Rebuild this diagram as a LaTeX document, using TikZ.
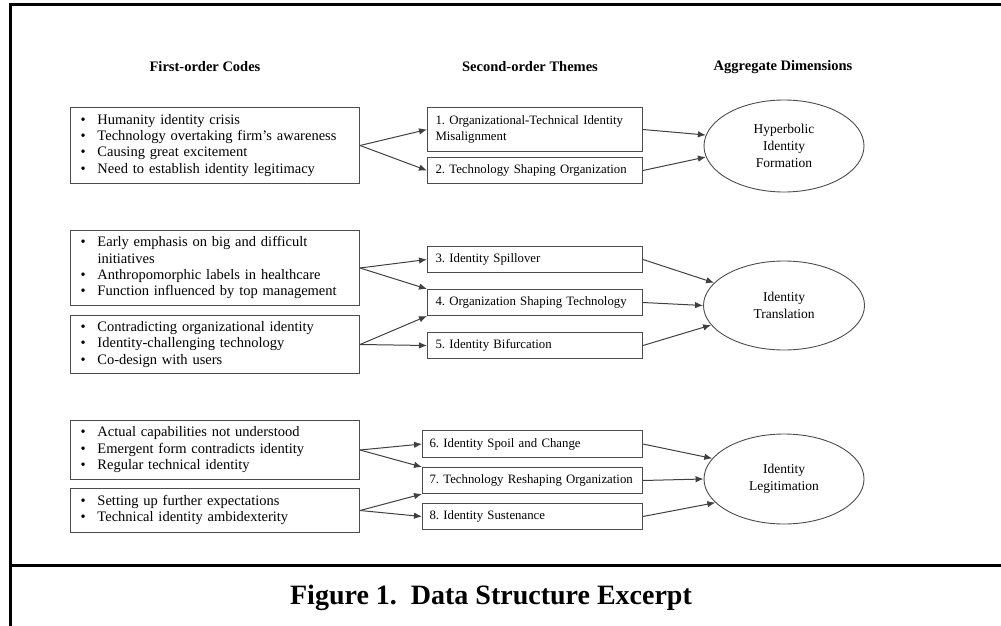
\documentclass[tikz,border=0pt]{standalone}
\usepackage{fontspec}
\setmainfont{Liberation Serif}
\usetikzlibrary{arrows.meta,shapes.geometric}
\frenchspacing
\newcommand{\codelist}[1]{\begin{tabular}{@{\hspace{10pt}}p{17pt}@{}l@{}}#1\end{tabular}}
\begin{document}
\begin{tikzpicture}[x=1pt,y=-1pt,
  frameline/.style={line width=3pt, black},
  heading/.style={font=\fontsize{14.5}{16}\selectfont\bfseries, anchor=center, inner sep=0pt},
  codebox/.style={draw=black!70, line width=1pt, anchor=north west, inner sep=0pt,
    text width=289pt, align=left, font=\fontsize{14.5}{16.3}\selectfont},
  themebox/.style={draw=black!70, line width=1pt, anchor=north west, inner sep=0pt,
    text width=#1, align=left, font=\fontsize{12.8}{16.5}\selectfont},
  dimnode/.style={draw=black!70, line width=0.9pt, ellipse, inner sep=0pt,
    align=center, font=\fontsize{13.5}{17}\selectfont},
  conn/.style={-{Latex[length=8pt,width=6.5pt]}, draw=black!75, line width=1pt}
]
\useasboundingbox (0,0) rectangle (1001,626);
% frame
\draw[frameline] (10,626) -- (10,5) -- (1003,5);
\draw[frameline] (10,565) -- (1003,565);

% headings
\node[heading] (h1) at (205,67) {First-order Codes};
\node[heading] (h2) at (530,67) {Second-order Themes};
\node[heading] (h3) at (783,67) {Aggregate Dimensions};

% first-order code boxes
\node[codebox, minimum height=76pt] (cA) at (70,107) {\codelist{%
\textbullet & Humanity identity crisis\\
\textbullet & Technology overtaking firm’s awareness\\
\textbullet & Causing great excitement\\
\textbullet & Need to establish identity legitimacy}};
\node[codebox, minimum height=75pt] (cB) at (70,230) {\codelist{%
\textbullet & Early emphasis on big and difficult\\
 & initiatives\\
\textbullet & Anthropomorphic labels in healthcare\\
\textbullet & Function influenced by top management}};
\node[codebox, minimum height=58pt] (cC) at (70,315) {\codelist{%
\textbullet & Contradicting organizational identity\\
\textbullet & Identity-challenging technology\\
\textbullet & Co-design with users}};
\node[codebox, minimum height=59pt] (cD) at (70,420) {\codelist{%
\textbullet & Actual capabilities not understood\\
\textbullet & Emergent form contradicts identity\\
\textbullet & Regular technical identity}};
\node[codebox, minimum height=44pt] (cE) at (70,488) {\codelist{%
\textbullet & Setting up further expectations\\
\textbullet & Technical identity ambidexterity}};

% second-order theme boxes
\node[themebox=215pt, minimum height=44pt] (t1) at (427,107) {\hspace*{8pt}1. Organizational-Technical Identity\\\hspace*{8pt}Misalignment};
\node[themebox=215pt, minimum height=26pt] (t2) at (427,157) {\hspace*{8pt}2. Technology Shaping Organization};
\node[themebox=215pt, minimum height=26pt] (t3) at (427,246) {\hspace*{8pt}3. Identity Spillover};
\node[themebox=215pt, minimum height=26pt] (t4) at (427,289) {\hspace*{8pt}4. Organization Shaping Technology};
\node[themebox=215pt, minimum height=26pt] (t5) at (427,332) {\hspace*{8pt}5. Identity Bifurcation};
\node[themebox=220pt, minimum height=27pt] (t6) at (422,430) {\hspace*{7pt}6. Identity Spoil and Change};
\node[themebox=220pt, minimum height=26pt] (t7) at (422,467) {\hspace*{7pt}7. Technology Reshaping Organization};
\node[themebox=220pt, minimum height=26pt] (t8) at (422,503) {\hspace*{7pt}8. Identity Sustenance};

% aggregate dimensions
\node[dimnode, minimum width=160pt, minimum height=92pt] (d1) at (784,146) {Hyperbolic\\Identity\\Formation};
\node[dimnode, minimum width=161pt, minimum height=89pt] (d2) at (784,305.5) {Identity\\Translation};
\node[dimnode, minimum width=160pt, minimum height=90pt] (d3) at (784,479) {Identity\\Legitimation};

% connectors: codes -> themes
\draw[conn] (cA.east) -- (t1.west);
\draw[conn] (cA.east) -- (t2.west);
\draw[conn] (cB.east) -- (t3.west);
\draw[conn] (cB.east) -- (t4.north west);
\draw[conn] (cC.east) -- (t4.south west);
\draw[conn] (cC.east) -- (t5.west);
\draw[conn] (cD.east) -- (t6.west);
\draw[conn] (cD.east) -- (t7.north west);
\draw[conn] (cE.east) -- (t7.south west);
\draw[conn] (cE.east) -- (t8.west);

% connectors: themes -> dimensions
\draw[conn] (t1.east) -- (d1.172);
\draw[conn] (t2.east) -- (d1.188);
\draw[conn] (t3.east) -- (d2.162);
\draw[conn] (t4.east) -- (d2.west);
\draw[conn] (t5.east) -- (d2.195);
\draw[conn] (t6.east) -- (d3.164);
\draw[conn] (t7.east) -- (d3.west);
\draw[conn] (t8.east) -- (d3.199);

% caption
\node[font=\fontsize{28}{30}\selectfont\bfseries, inner sep=0pt] (cap) at (491,598) {Figure 1.\ \ Data Structure Excerpt};
\end{tikzpicture}
\end{document}
